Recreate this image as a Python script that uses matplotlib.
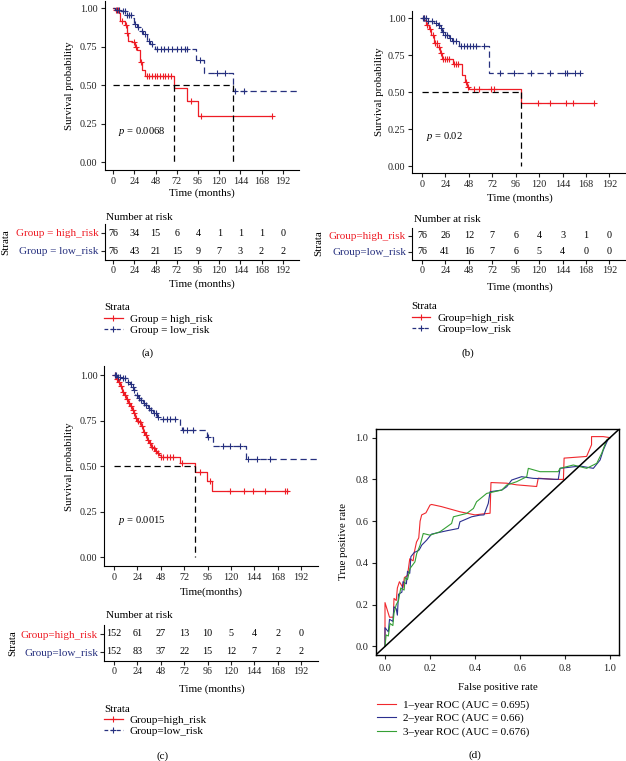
import numpy as np
import matplotlib
matplotlib.use('Agg')
import matplotlib.pyplot as plt
from matplotlib.lines import Line2D

plt.rcParams['font.family'] = ['Liberation Serif', 'DejaVu Serif']
plt.rcParams['mathtext.fontset'] = 'custom'
plt.rcParams['mathtext.it'] = 'Liberation Serif:italic'
plt.rcParams['mathtext.rm'] = 'Liberation Serif'

RED = '#ee1c25'
BLUE = '#26307f'

# ---- data: Kaplan-Meier curves (step times in months, survival), censor times, end of follow-up
time_ticks = [0, 24, 48, 72, 96, 120, 144, 168, 192]

# (a)
a_high_t = [0, 2, 6, 8, 13, 15, 17, 21, 24.5, 27, 30, 33, 36, 69, 84, 96]
a_high_s = [1.0, 0.99, 0.97, 0.92, 0.89, 0.84, 0.79, 0.78, 0.75, 0.73, 0.65, 0.60, 0.56, 0.48, 0.40, 0.30]
a_high_cens = [3, 5, 10, 14, 16, 23, 26, 31, 38, 41, 44, 47, 50, 53, 56, 59, 62, 65, 88, 99, 180]
a_high_end = 180
a_low_t = [0, 2, 9, 14, 21, 23, 26.5, 30, 34, 38, 41.5, 47, 94, 103, 136]
a_low_s = [1.0, 0.99, 0.98, 0.957, 0.935, 0.90, 0.88, 0.85, 0.83, 0.79, 0.77, 0.735, 0.665, 0.58, 0.465]
a_low_cens = [4, 7, 11, 13, 16, 18, 20, 25, 28, 32, 36, 40, 44, 50, 54, 58, 62, 66, 72, 77, 81, 83, 98, 118, 127, 138, 148]
a_low_end = 210
a_high_n = [76, 34, 15, 6, 4, 1, 1, 1, 0]
a_low_n = [76, 43, 21, 15, 9, 7, 3, 2, 2]

# (b)
b_high_t = [0, 2.4, 4.4, 6.8, 9.2, 12, 15.3, 18, 20.5, 31.7, 41, 44.3, 46, 47.7, 101.3]
b_high_s = [1.0, 0.989, 0.955, 0.925, 0.887, 0.835, 0.808, 0.763, 0.722, 0.69, 0.616, 0.571, 0.537, 0.519, 0.429]
b_high_cens = [2, 5, 8, 11, 13, 15, 17, 19, 22, 24, 26, 28, 33, 35, 37, 45, 47, 53, 58, 71, 74, 119, 131, 148, 155, 176]
b_high_end = 176
b_low_t = [0, 4.4, 12, 16, 18, 20.5, 23, 27.3, 30.7, 37.5, 68.2]
b_low_s = [1.0, 0.984, 0.971, 0.955, 0.932, 0.905, 0.887, 0.865, 0.849, 0.813, 0.632]
b_low_cens = [1, 2, 4, 6, 10, 14, 17, 19, 22, 24, 26, 29, 32, 35, 40, 43, 46, 49, 52, 55, 64, 80, 94, 112, 131, 147, 149, 157, 162]
b_low_end = 162
b_high_n = [76, 26, 12, 7, 6, 4, 3, 1, 0]
b_low_n = [76, 41, 16, 7, 6, 5, 4, 0, 0]

# (c)
c_high_t = [0, 2, 4, 6, 8, 10, 12, 14, 16, 18, 20, 22, 24, 26, 28, 30, 32, 34, 36, 38, 40, 42, 44, 46, 48, 68, 83, 95, 101]
c_high_s = [1.0, 0.98, 0.964, 0.94, 0.91, 0.89, 0.87, 0.845, 0.83, 0.81, 0.79, 0.763, 0.75, 0.74, 0.72, 0.69, 0.67, 0.644, 0.63, 0.607, 0.60, 0.585, 0.575, 0.56, 0.552, 0.52, 0.47, 0.42, 0.365]
c_high_cens = [1, 3, 5, 7, 9, 11, 13, 15, 17, 19, 21, 23, 25, 27, 29, 31, 33, 35, 37, 39, 41, 43, 45, 48, 50, 54, 57.5, 61, 69.5, 88, 98.6, 119, 133, 143, 155, 176, 178]
c_high_end = 179
c_low_t = [0, 3, 8, 13, 16, 18, 20, 22, 25, 27, 30, 32, 35, 37, 40, 44, 47, 68, 70, 95, 102, 136]
c_low_s = [1.0, 0.99, 0.982, 0.964, 0.95, 0.936, 0.92, 0.89, 0.875, 0.863, 0.845, 0.836, 0.82, 0.808, 0.79, 0.772, 0.757, 0.72, 0.70, 0.66, 0.61, 0.54]
c_low_cens = [1, 2, 4, 6, 9, 11, 14, 17, 19, 21, 24, 26, 28, 31, 33, 36, 38, 41, 43, 45, 50.6, 54, 57.5, 62.6, 71, 74.6, 81.5, 97, 112, 119, 129, 138, 146.5, 160]
c_low_end = 210
c_high_n = [152, 61, 27, 13, 10, 5, 4, 2, 0]
c_low_n = [152, 83, 37, 22, 15, 12, 7, 2, 2]

# (d) ROC curves
roc1_fpr = [0, 0, 0.02, 0.037, 0.04, 0.05, 0.055, 0.064, 0.075, 0.08, 0.086, 0.1, 0.11, 0.125, 0.13, 0.14, 0.15, 0.156, 0.163, 0.182, 0.2, 0.207, 0.25, 0.3, 0.333, 0.4, 0.437, 0.467, 0.471, 0.54, 0.585, 0.674, 0.681, 0.75, 0.793, 0.796, 0.896, 0.918, 0.918, 0.97, 1.0]
roc1_tpr = [0, 0.21, 0.14, 0.14, 0.23, 0.22, 0.28, 0.31, 0.29, 0.28, 0.33, 0.34, 0.42, 0.41, 0.45, 0.50, 0.52, 0.60, 0.63, 0.64, 0.677, 0.68, 0.67, 0.655, 0.645, 0.63, 0.635, 0.638, 0.785, 0.782, 0.774, 0.766, 0.806, 0.80, 0.80, 0.902, 0.91, 0.966, 1.005, 1.005, 1.0]
roc2_fpr = [0, 0, 0.015, 0.02, 0.035, 0.04, 0.05, 0.055, 0.06, 0.075, 0.08, 0.095, 0.1, 0.11, 0.115, 0.13, 0.15, 0.156, 0.163, 0.185, 0.207, 0.274, 0.326, 0.333, 0.385, 0.422, 0.44, 0.459, 0.467, 0.519, 0.541, 0.563, 0.607, 0.659, 0.77, 0.778, 0.867, 0.926, 0.956, 0.97, 0.99, 1.0]
roc2_tpr = [0, 0.09, 0.07, 0.13, 0.12, 0.19, 0.18, 0.15, 0.25, 0.26, 0.31, 0.30, 0.36, 0.35, 0.43, 0.45, 0.46, 0.47, 0.485, 0.509, 0.538, 0.554, 0.565, 0.597, 0.621, 0.629, 0.63, 0.685, 0.741, 0.749, 0.765, 0.797, 0.813, 0.805, 0.80, 0.853, 0.864, 0.853, 0.893, 0.94, 0.989, 1.0]
roc3_fpr = [0, 0.005, 0.015, 0.022, 0.035, 0.04, 0.05, 0.06, 0.07, 0.085, 0.09, 0.1, 0.111, 0.133, 0.141, 0.156, 0.17, 0.2, 0.244, 0.296, 0.304, 0.363, 0.393, 0.407, 0.452, 0.519, 0.541, 0.585, 0.63, 0.637, 0.689, 0.77, 0.778, 0.837, 0.896, 0.941, 0.963, 0.985, 1.0]
roc3_tpr = [0, 0.055, 0.05, 0.11, 0.10, 0.16, 0.20, 0.22, 0.28, 0.27, 0.33, 0.32, 0.373, 0.405, 0.445, 0.485, 0.541, 0.533, 0.549, 0.589, 0.621, 0.637, 0.661, 0.693, 0.733, 0.749, 0.773, 0.789, 0.813, 0.853, 0.837, 0.837, 0.853, 0.869, 0.853, 0.877, 0.925, 0.989, 1.0]
roc_labels = ['1\u2013year ROC (AUC = 0.695)', '2\u2013year ROC (AUC = 0.66)', '3\u2013year ROC (AUC = 0.676)']
roc_colors = ['#f0282d', '#2b2f8f', '#35a035']

W, H = 626, 761
fig = plt.figure(figsize=(W / 100, H / 100), dpi=100)


def px_axes(l, t, r, b):
    return fig.add_axes([l / W, 1 - b / H, (r - l) / W, (b - t) / H])


def fx(x):
    return x / W


def fy(y):
    return 1 - y / H


def style_axes(ax, ticklen=3, pad=1.5):
    for s in ['top', 'right']:
        ax.spines[s].set_visible(False)
    for s in ['left', 'bottom']:
        ax.spines[s].set_linewidth(0.8)
    ax.tick_params(direction='out', length=ticklen, width=0.8, labelsize=7.3,
                   pad=pad, colors='#222222')


def km_panel(box, curves, p_text, p_x, xlabel, xlab_y, ylab_x):
    ax = px_axes(*box)
    meds = []
    for t, s, cens, end, col, ls in curves:
        ax.step(t + [end], s + [s[-1]], where='post', color=col, lw=0.9,
                ls=ls, dashes=(5, 3) if ls == '--' else (None, None))
        idx = np.searchsorted(t, cens, side='right') - 1
        ax.plot(cens, np.array(s)[idx], ls='none', marker='+', color=col,
                ms=5, mew=0.8)
        below = [ti for ti, si in zip(t, s) if si <= 0.5]
        if below:
            meds.append(below[0])
    ax.plot([0, max(meds)], [0.5, 0.5], color='black', ls='--', dashes=(5, 3), lw=0.9)
    for m in meds:
        ax.plot([m, m], [0.5, 0], color='black', ls='--', dashes=(5, 3), lw=0.9)
    ax.text(p_x, 0.2, '$p$ = ' + p_text, fontsize=7.6, ha='left', va='center')
    ax.set_xlim(-10, 210)
    ax.set_ylim(-0.05, 1.05)
    ax.set_xticks(time_ticks)
    ax.set_yticks([0, 0.25, 0.5, 0.75, 1.0])
    ax.set_yticklabels(['0.00', '0.25', '0.50', '0.75', '1.00'])
    style_axes(ax, pad=2)
    ax.set_xlabel(xlabel, fontsize=8)
    ax.set_ylabel('Survival probability', fontsize=7.8)
    l, t, r, b = box
    ax.xaxis.set_label_coords(fx((l + r) / 2), fy(xlab_y), transform=fig.transFigure)
    ax.yaxis.set_label_coords(fx(ylab_x), fy((t + b) / 2), transform=fig.transFigure)
    ax.xaxis.label.set_va('center')
    ax.yaxis.label.set_va('center')
    return ax


def risk_table(box, high_n, low_n, labels, title_y, xlab_y, strata_x, strata_y):
    ax = px_axes(*box)
    ax.set_xlim(-10, 210)
    ax.set_ylim(0.5, 2.5)
    for i, tk in enumerate(time_ticks):
        ax.text(tk, 2, str(high_n[i]), ha='center', va='center', fontsize=7.3)
        ax.text(tk, 1, str(low_n[i]), ha='center', va='center', fontsize=7.3)
    ax.set_xticks(time_ticks)
    ax.set_yticks([2, 1])
    ax.set_yticklabels(labels)
    style_axes(ax, pad=1.5)
    ax.tick_params(axis='y', labelsize=8)
    ax.get_yticklabels()[0].set_color(RED)
    ax.get_yticklabels()[1].set_color(BLUE)
    l, t, r, b = box
    fig.text(fx(l + 2), fy(title_y), 'Number at risk', fontsize=8, ha='left', va='center')
    ax.set_xlabel('Time (months)', fontsize=8)
    ax.xaxis.set_label_coords(fx((l + r) / 2), fy(xlab_y), transform=fig.transFigure)
    ax.xaxis.label.set_va('center')
    fig.text(fx(strata_x), fy(strata_y), 'Strata', rotation=90, fontsize=8,
             ha='center', va='center')
    return ax


def km_legend(labels, x, y, handle_len=1.7):
    handles = [Line2D([], [], color=RED, lw=0.9, marker='+', ms=5, mew=0.8),
               Line2D([], [], color=BLUE, lw=0.9, ls='--', dashes=(3, 2), marker='+', ms=5, mew=0.8)]
    fig.legend(handles, labels, title='Strata', loc='upper left',
               bbox_to_anchor=(fx(x), fy(y)), frameon=False, fontsize=8,
               title_fontsize=8, alignment='left', handlelength=handle_len,
               handletextpad=0.6, labelspacing=0.12, borderpad=0, borderaxespad=0,
               numpoints=1)


# ---- (a)
km_panel((104.5, 0.6, 298.6, 170),
         [(a_high_t, a_high_s, a_high_cens, a_high_end, RED, '-'),
          (a_low_t, a_low_s, a_low_cens, a_low_end, BLUE, '--')],
         '0.0068', 5.7, 'Time (months)', 193, 70)
risk_table((104.5, 224, 298.6, 260), a_high_n, a_low_n,
           ['Group = high_risk', 'Group = low_risk'], 217, 284, 6, 242)
km_legend(['Group = high_risk', 'Group = low_risk'], 104, 303.5)
fig.text(fx(148), fy(353), '(a)', fontsize=8, ha='center', va='center')

# ---- (b)
km_panel((412.2, 10.9, 627, 173.4),
         [(b_high_t, b_high_s, b_high_cens, b_high_end, RED, '-'),
          (b_low_t, b_low_s, b_low_cens, b_low_end, BLUE, '--')],
         '0.02', 4.4, 'Time (months)', 198, 379)
risk_table((412.2, 228, 627, 260), b_high_n, b_low_n,
           ['Group=high_risk', 'Group=low_risk'], 220, 287, 319, 243)
km_legend(['Group=high_risk', 'Group=low_risk'], 411.5, 302.5)
fig.text(fx(468), fy(353), '(b)', fontsize=8, ha='center', va='center')

# ---- (c)
km_panel((104.3, 366, 318.5, 566.4),
         [(c_high_t, c_high_s, c_high_cens, c_high_end, RED, '-'),
          (c_low_t, c_low_s, c_low_cens, c_low_end, BLUE, '--')],
         '0.0015', 4.4, 'Time(months)', 592, 70)
risk_table((104.3, 625, 318.5, 661), c_high_n, c_low_n,
           ['Group=high_risk', 'Group=low_risk'], 616, 689, 13, 643)
km_legend(['Group=high_risk', 'Group=low_risk'], 104, 704.5)
fig.text(fx(163), fy(756), '(c)', fontsize=8, ha='center', va='center')

# ---- (d) ROC
axd = px_axes(376, 429.3, 619, 654.8)
for fpr, tpr, col, lab in zip([roc1_fpr, roc2_fpr, roc3_fpr],
                              [roc1_tpr, roc2_tpr, roc3_tpr], roc_colors, roc_labels):
    axd.plot(fpr, tpr, color=col, lw=0.8, label=lab)
axd.axline((0, 0), slope=1, color='black', lw=1.1)
axd.set_xlim(-0.04, 1.04)
axd.set_ylim(-0.04, 1.04)
axd.set_xticks([0, 0.2, 0.4, 0.6, 0.8, 1.0])
axd.set_yticks([0, 0.2, 0.4, 0.6, 0.8, 1.0])
axd.set_xticklabels(['0.0', '0.2', '0.4', '0.6', '0.8', '1.0'])
axd.set_yticklabels(['0.0', '0.2', '0.4', '0.6', '0.8', '1.0'])
for s in axd.spines.values():
    s.set_linewidth(1.0)
axd.tick_params(direction='out', length=3.1, width=0.8, labelsize=7.5, colors='#222222')
axd.tick_params(axis='x', pad=3.6)
axd.tick_params(axis='y', pad=2.5)
axd.set_xlabel('False positive rate', fontsize=7.8)
axd.set_ylabel('True positive rate', fontsize=7.8)
axd.xaxis.set_label_coords(fx(498), fy(687), transform=fig.transFigure)
axd.yaxis.set_label_coords(fx(343), fy(541), transform=fig.transFigure)
axd.xaxis.label.set_va('center')
axd.yaxis.label.set_va('center')
axd.legend(loc='upper left', bbox_to_anchor=(fx(377), fy(700)),
           bbox_transform=fig.transFigure, frameon=False, fontsize=8,
           handlelength=1.7, handletextpad=0.6, labelspacing=0.3,
           borderpad=0, borderaxespad=0)
fig.text(fx(475), fy(755), '(d)', fontsize=8, ha='center', va='center')

fig.savefig('out.png', dpi=100)
